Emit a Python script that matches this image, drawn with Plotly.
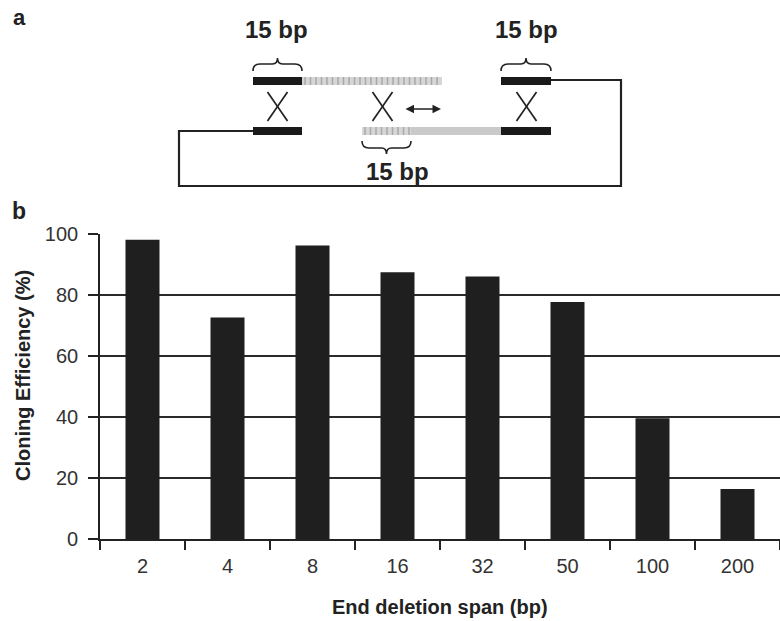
import plotly.graph_objects as go

# Cloning efficiency by end deletion span
spans = ["2", "4", "8", "16", "32", "50", "100", "200"]
efficiency = [98.1, 72.6, 96.2, 87.5, 86.1, 77.7, 39.6, 16.4]
y_ticks = [0, 20, 40, 60, 80, 100]

W, H = 780, 621
FONT = "Liberation Sans, Arial, sans-serif"
INK = "#222222"

fig = go.Figure()

fig.add_trace(go.Bar(
    x=spans, y=efficiency, width=0.4,
    marker=dict(color="#1f1f1f", line=dict(color="#1f1f1f", width=0)),
    xaxis="x", yaxis="y", showlegend=False,
))

# invisible pixel-space overlay used for the schematic in panel a
fig.add_trace(go.Scatter(x=[], y=[], xaxis="x2", yaxis="y2", showlegend=False))

shapes = []


def rect(x0, y0, x1, y1, fill):
    shapes.append(dict(type="rect", xref="x2", yref="y2", x0=x0, y0=y0, x1=x1, y1=y1,
                       fillcolor=fill, line=dict(width=0), layer="above"))


def striped(x0, y0, x1, y1):
    rect(x0, y0, x1, y1, "#d6d6d6")
    x = x0 + 3
    while x < x1 - 1:
        shapes.append(dict(type="line", xref="x2", yref="y2", x0=x, x1=x, y0=y0, y1=y1,
                           line=dict(color="#a9a9a9", width=1.5)))
        x += 5.5


def line(x0, y0, x1, y1, w=1.7):
    shapes.append(dict(type="line", xref="x2", yref="y2", x0=x0, y0=y0, x1=x1, y1=y1,
                       line=dict(color=INK, width=w)))


def brace(x0, x1, y_end, y_bar, y_tip):
    m = (x0 + x1) / 2
    path = (f"M {x0} {y_end} Q {x0} {y_bar} {x0 + 7} {y_bar} L {m - 5} {y_bar} "
            f"Q {m} {y_bar} {m} {y_tip} Q {m} {y_bar} {m + 5} {y_bar} "
            f"L {x1 - 7} {y_bar} Q {x1} {y_bar} {x1} {y_end}")
    shapes.append(dict(type="path", xref="x2", yref="y2", path=path,
                       line=dict(color=INK, width=1.6)))


# top strand
rect(253, 77, 302, 85, "#1a1a1a")
striped(302, 77, 442, 85)
rect(501, 77, 551, 85, "#1a1a1a")
# bottom strand
rect(253, 127, 302, 135, "#1a1a1a")
striped(362, 127, 411, 135)
rect(411, 127, 501, 135, "#cacaca")
rect(501, 127, 551, 135, "#1a1a1a")

# vector backbone
shapes.append(dict(type="path", xref="x2", yref="y2",
                   path="M 551 80 L 621 80 L 621 186 L 179 186 L 179 131 L 253 131",
                   line=dict(color=INK, width=2.2)))

# crossover marks
for cx in (277.5, 382.5, 526.5):
    line(cx - 10, 92, cx + 10, 121)
    line(cx + 10, 92, cx - 10, 121)

# braces over the 15 bp homology arms
brace(253, 302, 71, 64, 58)
brace(501, 551, 71, 64, 58)
brace(362, 411, 141, 148, 154)

fig.add_annotation(x=441, y=109, ax=404, ay=109, xref="x2", yref="y2", axref="x2", ayref="y2",
                   text="", showarrow=True, arrowside="end+start", arrowhead=2, arrowsize=1,
                   arrowwidth=1.7, arrowcolor=INK)

labels = [
    ("15 bp", 276, 29, 24),
    ("15 bp", 526, 29, 24),
    ("15 bp", 397, 171, 24),
    ("a", 19, 17, 22),
    ("b", 19, 211, 23),
]
for txt, x, y, sz in labels:
    fig.add_annotation(x=x, y=y, xref="x2", yref="y2", text=f"<b>{txt}</b>", showarrow=False,
                       font=dict(family=FONT, size=sz, color=INK), xanchor="center", yanchor="middle")

# axis titles
fig.add_annotation(x=440, y=607, xref="x2", yref="y2", text="<b>End deletion span (bp)</b>",
                   showarrow=False, font=dict(family=FONT, size=20, color=INK))
fig.add_annotation(x=23, y=376, xref="x2", yref="y2", text="<b>Cloning Efficiency (%)</b>",
                   textangle=-90, showarrow=False, font=dict(family=FONT, size=20, color=INK))

fig.update_layout(
    width=W, height=H,
    margin=dict(l=0, r=0, t=0, b=0, autoexpand=False),
    paper_bgcolor="white", plot_bgcolor="rgba(0,0,0,0)",
    bargap=0.6,
    shapes=shapes,
    xaxis=dict(
        domain=[100 / W, 1.0], type="category", tickson="boundaries",
        ticks="outside", ticklen=9, tickwidth=1.6, tickcolor=INK,
        showline=True, linecolor=INK, linewidth=1.6, showgrid=False,
        tickfont=dict(family=FONT, size=20, color="#333333"),
        ticklabelstandoff=8, anchor="y", automargin=False,
    ),
    yaxis=dict(
        domain=[(H - 539) / H, (H - 234) / H], range=[0, 100],
        tickvals=y_ticks, ticks="outside", ticklen=10, tickwidth=1.6, tickcolor=INK,
        showline=True, linecolor=INK, linewidth=1.6,
        showgrid=True, gridcolor="#2a2a2a", gridwidth=1.6, zeroline=False,
        tickfont=dict(family=FONT, size=20, color="#333333"),
        ticklabelstandoff=6, anchor="x", automargin=False,
    ),
    xaxis2=dict(domain=[0, 1], range=[0, W], visible=False, anchor="y2", fixedrange=True),
    yaxis2=dict(domain=[0, 1], range=[H, 0], visible=False, anchor="x2", fixedrange=True),
)

fig.write_html("out.html")
